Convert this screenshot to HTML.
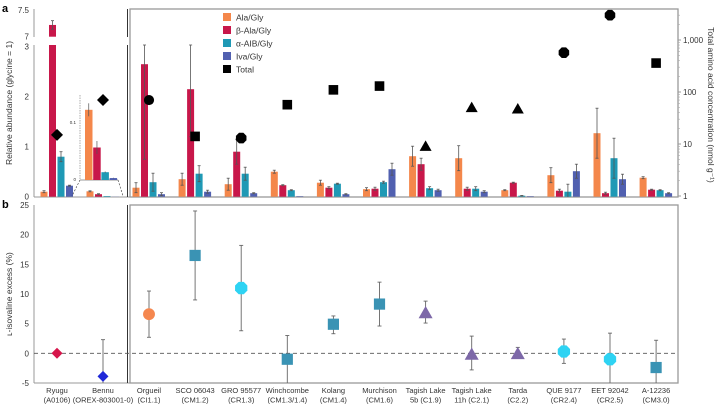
<!DOCTYPE html>
<html><head><meta charset="utf-8"><style>
body{margin:0;background:#fff}
svg{display:block;font-family:"Liberation Sans",sans-serif}
</style></head><body>
<svg id="c" width="719" height="404" viewBox="0 0 719 404">
<defs>
<clipPath id="cpa"><rect x="34" y="9" width="644" height="188"/></clipPath>
<clipPath id="cpb"><rect x="34" y="205" width="644" height="178"/></clipPath>
</defs>
<g id="frame"></g>
<g id="marks"></g>
</svg>
<script>
const samples=["Ryugu","Bennu","Orgueil","SCO 06043","GRO 95577","Winchcombe","Kolang","Murchison","Tagish Lake","Tagish Lake","Tarda","QUE 9177","EET 92042","A-12236"];
const samples2=["(A0106)","(OREX-803001-0)","(CI1.1)","(CM1.2)","(CR1.3)","(CM1.3/1.4)","(CM1.4)","(CM1.6)","5b (C1.9)","11h (C2.1)","(C2.2)","(CR2.4)","(CR2.5)","(CM3.0)"];
const ala=[0.10,0.108,0.18,0.35,0.25,0.50,0.28,0.15,0.81,0.77,0.13,0.43,1.27,0.38];
const ala_err=[0.02,0.01,0.10,0.12,0.12,0.03,0.05,0.03,0.20,0.25,0.01,0.15,0.50,0.02];
const bala=[7.22,0.05,2.65,2.15,0.90,0.23,0.18,0.16,0.65,0.16,0.28,0.12,0.07,0.14];
const bala_err=[0.08,0.01,1.9,0.95,0.25,0.01,0.02,0.03,0.12,0.03,0.01,0.03,0.02,0.01];
const aib=[0.80,0.012,0.29,0.46,0.46,0.13,0.26,0.29,0.17,0.16,0.02,0.10,0.77,0.13];
const aib_err=[0.10,0.001,0.18,0.16,0.13,0.01,0.01,0.02,0.03,0.04,0.005,0.15,0.40,0.01];
const iva=[0.22,0.003,0.05,0.10,0.07,0.01,0.05,0.55,0.13,0.10,0.01,0.51,0.35,0.07];
const iva_err=[0.01,0.0005,0.03,0.03,0.01,0.002,0.01,0.12,0.02,0.02,0.003,0.14,0.10,0.01];
const total=[15,70,70,14,13,57,110,130,9,50,47,570,3000,360];
const shapes=["diamond","diamond","circle","square","octagon","square","square","square","triangle","triangle","triangle","octagon","octagon","square"];
const lexcess=[0.0,-3.9,6.6,16.5,11.0,-1.0,4.9,8.3,6.8,-0.2,-0.1,0.3,-1.0,-2.4];
const lex_lo=[0.0,-10,2.7,9.0,3.8,-5.5,3.3,4.6,5.1,-2.8,-0.1,-1.7,-6,-6];
const lex_hi=[0.0,2.3,10.5,24.0,18.2,3.0,6.3,12.0,8.8,2.9,1.0,2.4,3.4,2.2];
const bColors=["#d6164b","#1f28d8","#f5874f","#3a93b4","#2ed3f3","#3a93b4","#3a93b4","#3a93b4","#7d68a8","#7d68a8","#7d68a8","#2ed3f3","#2ed3f3","#3a93b4"];
const ticksA=[0,1,2,3];const ticksAu=[7,7.5];
const ticksLog=[1,10,100,1000];const tickLogLabels=["1","10","100","1,000"];
const ticksB=[-5,0,5,10,15,20,25];
const series=["Ala/Gly","β-Ala/Gly","α-AIB/Gly","Iva/Gly"];
const sColors=["#f4874b","#c8174a","#1f99b5","#5160b0"];

const NS="http://www.w3.org/2000/svg";
const F=document.getElementById('frame'),M=document.getElementById('marks');
function el(t,a,p){const e=document.createElementNS(NS,t);for(const k in a)e.setAttribute(k,a[k]);(p||M).appendChild(e);return e;}
function tx(x,y,s,a,p){const e=el('text',Object.assign({x:x,y:y},a),p);e.textContent=s;return e;}
const xc=i=>57+(i<2? i*46 : 92+(i-2)*46.1);
function yA(v){if(v<=3)return 196.7-50*v;if(v>=7)return 36.7-(v-7)*53.4;return 45;}
const yL=v=>196-52*Math.log10(v);
const yB=v=>353.3-5.93*v;

el('line',{x1:34,y1:197,x2:678,y2:197,stroke:'#999','stroke-width':1},F);
el('rect',{x:130,y:9,width:548,height:188,fill:'none',stroke:'#999','stroke-width':1.3},F);
el('line',{x1:127.5,y1:9,x2:127.5,y2:37,stroke:'#333','stroke-width':1},F);
el('line',{x1:127.5,y1:45,x2:127.5,y2:197,stroke:'#333','stroke-width':1},F);
el('line',{x1:34,y1:9,x2:34,y2:37,stroke:'#999'},F);
el('line',{x1:34,y1:45,x2:34,y2:197,stroke:'#999'},F);
ticksA.forEach(t=>{const e=tx(29,yA(t)+3,String(t),{'font-size':8,'text-anchor':'end',fill:'#333'},F);});
ticksAu.forEach(t=>{const e=tx(29,yA(t)+3,String(t),{'font-size':8,'text-anchor':'end',fill:'#333'},F);});
ticksLog.forEach((t,i)=>{el('line',{x1:678,y1:yL(t),x2:681,y2:yL(t),stroke:'#999'},F);const e=tx(683,yL(t)+3,tickLogLabels[i],{'font-size':8,fill:'#333'},F);});
[2,3,4,5,6,7,8,9].forEach(m=>[1,10,100,1000].forEach(d=>{const v=m*d;if(yL(v)>9)el('line',{x1:678,y1:yL(v),x2:680,y2:yL(v),stroke:'#aaa','stroke-width':0.6},F);}));
let t1=tx(0,0,'Relative abundance (glycine = 1)',{'font-size':8.5,'text-anchor':'middle',fill:'#333',transform:'translate(12,103) rotate(-90)'},F);

let t2=tx(0,0,'Total amino acid concentration (nmol g⁻¹)',{'font-size':8.5,'text-anchor':'middle',fill:'#333',transform:'translate(708,105) rotate(90)'},F);

let pa=tx(2,12,'a',{'font-size':11,'font-weight':'bold'},F);
let pb=tx(2,208,'b',{'font-size':11,'font-weight':'bold'},F);

series.forEach((s,i)=>{const y=13+i*13;const r=el('rect',{x:223,y:y,width:8,height:8,fill:sColors[i]},F);const t=tx(236,y+7.5,s,{'font-size':8.5,fill:'#333'},F);});
{const r=el('rect',{x:223,y:65,width:8,height:8,fill:'#000'},F);const t=tx(236,72.5,'Total',{'font-size':8.5,fill:'#333'},F);}

const offs=[-13,-4.5,4,12.5];const bw=7;
const vals=[ala,bala,aib,iva],errs=[ala_err,bala_err,aib_err,iva_err];
const gA=el('g',{'clip-path':'url(#cpa)'});
function shape(kind,x,y,s,fill,g){let e;
 if(kind==='diamond')e=el('polygon',{points:`${x},${y-s} ${x+s},${y} ${x},${y+s} ${x-s},${y}`,fill:fill},g);
 else if(kind==='circle')e=el('circle',{cx:x,cy:y,r:s*0.85,fill:fill},g);
 else if(kind==='square')e=el('rect',{x:x-s*0.8,y:y-s*0.8,width:s*1.6,height:s*1.6,fill:fill},g);
 else if(kind==='triangle')e=el('polygon',{points:`${x},${y-s} ${x+s},${y+s*0.75} ${x-s},${y+s*0.75}`,fill:fill},g);
 else {let p=[];for(let k=0;k<8;k++){const a=Math.PI/8+k*Math.PI/4;p.push((x+s*0.95*Math.cos(a))+','+(y+s*0.95*Math.sin(a)));}e=el('polygon',{points:p.join(' '),fill:fill},g);}
 return e;}
samples.forEach((s,i)=>{const cx=xc(i);
 vals.forEach((arr,k)=>{const v=arr[i],x=cx+offs[k]-bw/2;
  if(v>3){const b1=el('rect',{x:x,y:45,width:bw,height:196.7-45,fill:sColors[k]},gA);
   const b2=el('rect',{x:x,y:yA(v),width:bw,height:36.7-yA(v),fill:sColors[k]},gA);}
  else{const b=el('rect',{x:x,y:yA(v),width:bw,height:196.7-yA(v),fill:sColors[k]},gA);}
  const e=errs[k][i];const top=v+e,bot=v-e;
  if(e>0.004){const xm=cx+offs[k];const y1=yA(Math.min(top,v>3?7.6:3.3)),y2=yA(bot);
   const l=el('line',{x1:xm,y1:Math.max(y1,9),x2:xm,y2:y2,stroke:'#555','stroke-width':0.8},gA);
   el('line',{x1:xm-1.5,y1:Math.max(y1,9),x2:xm+1.5,y2:Math.max(y1,9),stroke:'#555','stroke-width':0.8},gA);
   el('line',{x1:xm-1.5,y1:y2,x2:xm+1.5,y2:y2,stroke:'#555','stroke-width':0.8},gA);}
 });
});
{const ix=80,iy0=180,sc=650;const g=el('g',{});
 el('line',{x1:ix,y1:95,x2:ix,y2:iy0,stroke:'#777','stroke-width':0.6,'stroke-dasharray':'1.5,1'},g);
 tx(ix-4,124,'0.1',{'font-size':4.5,'text-anchor':'end',fill:'#333'},g);tx(ix-4,181,'0',{'font-size':4.5,'text-anchor':'end',fill:'#333'},g);
 el('line',{x1:ix,y1:iy0,x2:ix+38,y2:iy0,stroke:'#333','stroke-width':0.6},g);
 el('line',{x1:ix,y1:iy0,x2:ix-8,y2:196,stroke:'#333','stroke-width':0.6,'stroke-dasharray':'2,1.5'},g);
 el('line',{x1:ix+38,y1:iy0,x2:ix+43,y2:196,stroke:'#333','stroke-width':0.6,'stroke-dasharray':'2,1.5'},g);
 vals.forEach((arr,k)=>{const v=arr[1];const b=el('rect',{x:ix+5+k*8.2,y:iy0-v*sc,width:7.5,height:v*sc,fill:sColors[k]},g);
  const e=errs[k][1]*sc,xm=ix+8.75+k*8.2;el('line',{x1:xm,y1:iy0-v*sc-e,x2:xm,y2:iy0-v*sc+e,stroke:'#555','stroke-width':0.7},g);});
}
samples.forEach((s,i)=>{const m=shape(shapes[i],xc(i),yL(total[i]),6,'#000',gA);});

el('rect',{x:130,y:205,width:548,height:178,fill:'none',stroke:'#999','stroke-width':1.3},F);
el('line',{x1:34,y1:205,x2:34,y2:383,stroke:'#999'},F);
el('line',{x1:34,y1:383,x2:130,y2:383,stroke:'#999'},F);
el('line',{x1:127.5,y1:205,x2:127.5,y2:383,stroke:'#333'},F);
el('line',{x1:34,y1:yB(0),x2:678,y2:yB(0),stroke:'#555','stroke-width':0.8,'stroke-dasharray':'4,3'},F);
ticksB.forEach(t=>{const e=tx(29,yB(t)+3,String(t),{'font-size':8,'text-anchor':'end',fill:'#333'},F);});
let t3=tx(0,0,'ʟ-isovaline excess (%)',{'font-size':8.5,'text-anchor':'middle',fill:'#333',transform:'translate(12,294) rotate(-90)'},F);

const gB=el('g',{'clip-path':'url(#cpb)'});
samples.forEach((s,i)=>{const x=xc(i);
 if(lex_hi[i]!==lex_lo[i]){const l=el('line',{x1:x,y1:yB(lex_hi[i]),x2:x,y2:yB(lex_lo[i]),stroke:'#666','stroke-width':0.9},gB);
  el('line',{x1:x-2,y1:yB(lex_hi[i]),x2:x+2,y2:yB(lex_hi[i]),stroke:'#666','stroke-width':0.9},gB);
  el('line',{x1:x-2,y1:yB(lex_lo[i]),x2:x+2,y2:yB(lex_lo[i]),stroke:'#666','stroke-width':0.9},gB);}
 const m=shape(shapes[i],x,yB(lexcess[i]),shapes[i]==='diamond'?5.5:7,bColors[i],gB);
 const a=tx(x,393,s,{'font-size':7.5,'text-anchor':'middle',fill:'#333'},F);
 const b=tx(x,402.5,samples2[i],{'font-size':7.5,'text-anchor':'middle',fill:'#333'},F);
});
</script>
</body></html>
